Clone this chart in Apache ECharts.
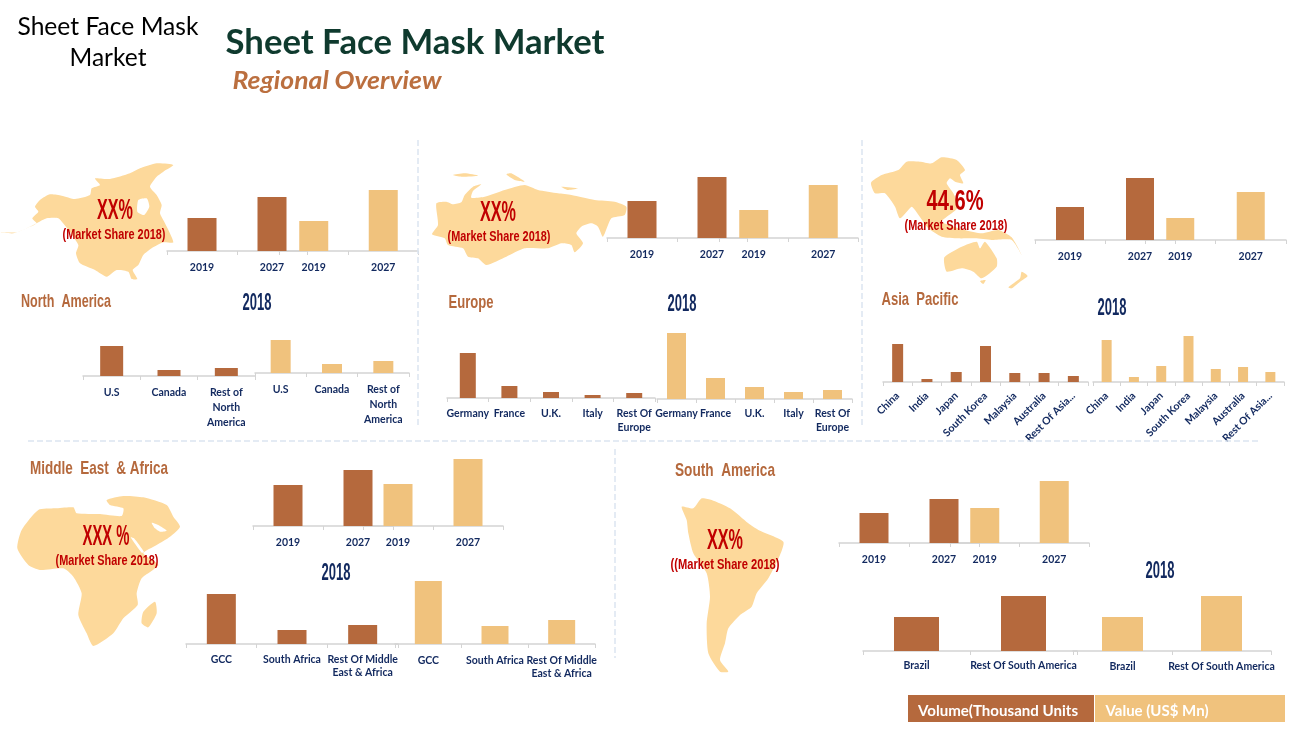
<!DOCTYPE html>
<html>
<head>
<meta charset="utf-8">
<title>Sheet Face Mask Market</title>
<script src="https://cdn.jsdelivr.net/npm/echarts@6/dist/echarts.min.js"></script>
<style>
    html, body { margin: 0; padding: 0; background: #fff; }
    #container { width: 1289px; height: 729px; }
</style>
</head>
<body>
<div id="container"></div>
<script>
//bar heights, the source has no value axis
var trendYears = ['2019', '2027'];

var naTrendVolume = [33, 54];
var naTrendValue = [30, 61];
var europeTrendVolume = [37, 61];
var europeTrendValue = [28, 53];
var apacTrendVolume = [33, 62];
var apacTrendValue = [22, 48];
var meaTrendVolume = [41, 56];
var meaTrendValue = [42, 67];
var saTrendVolume = [30, 44];
var saTrendValue = [35, 62];

var naCountries = ['U.S', 'Canada', 'Rest of\nNorth\nAmerica'];
var naVolume = [30, 6, 8];
var naValue = [33, 9, 12];

var europeCountries = ['Germany', 'France', 'U.K.', 'Italy', 'Rest Of\nEurope'];
var europeVolume = [45, 12, 6, 3, 5];
var europeValue = [66, 21, 12, 7, 9];

var apacCountries = ['China', 'India', 'Japan', 'South Korea', 'Malaysia', 'Australia', 'Rest Of Asia...'];
var apacVolume = [38, 3, 10, 36, 9, 9, 6];
var apacValue = [42, 5, 16, 46, 13, 15, 10];

var meaCountries = ['GCC', 'South Africa', 'Rest Of Middle\nEast & Africa'];
var meaVolume = [50, 14, 19];
var meaValue = [63, 18, 24];

var saCountries = ['Brazil', 'Rest Of South America'];
var saVolume = [34, 55];
var saValue = [34, 55];

var BROWN = '#b5693d';
var GOLD = '#f0c27d';
var NAVY = '#12295f';
var RED = '#c00000';
var LAND = '#fdd99b';
var PLOT_H = 72;

var dom = document.getElementById('container');
var myChart = echarts.init(dom, null, {renderer: 'canvas'});

//left, right, axis y, bar width, label center y, line height
var panels = [
    {cats: trendYears, vals: naTrendVolume, color: BROWN, l: 167, r: 307, y: 252, bw: 29, ly: 267},
    {cats: trendYears, vals: naTrendValue, color: GOLD, l: 279, r: 418, y: 252, bw: 29, ly: 267},
    {cats: trendYears, vals: europeTrendVolume, color: BROWN, l: 607, r: 747, y: 239, bw: 29, ly: 254},
    {cats: trendYears, vals: europeTrendValue, color: GOLD, l: 719, r: 858, y: 239, bw: 29, ly: 254},
    {cats: trendYears, vals: apacTrendVolume, color: BROWN, l: 1035, r: 1175, y: 241, bw: 28, ly: 256},
    {cats: trendYears, vals: apacTrendValue, color: GOLD, l: 1145, r: 1286, y: 241, bw: 28, ly: 256},
    {cats: trendYears, vals: meaTrendVolume, color: BROWN, l: 253, r: 393, y: 527, bw: 29, ly: 542},
    {cats: trendYears, vals: meaTrendValue, color: GOLD, l: 363, r: 503, y: 527, bw: 29, ly: 542},
    {cats: trendYears, vals: saTrendVolume, color: BROWN, l: 839, r: 979, y: 544, bw: 29, ly: 559},
    {cats: trendYears, vals: saTrendValue, color: GOLD, l: 950, r: 1089, y: 544, bw: 29, ly: 559},

    {cats: naCountries, vals: naVolume, color: BROWN, l: 83, r: 255, y: 377, bw: 23, ly: 392, lh: 15},
    {cats: naCountries, vals: naValue, color: GOLD, l: 255, r: 409, y: 374, bw: 20, ly: 389, lh: 15},
    {cats: europeCountries, vals: europeVolume, color: BROWN, l: 447, r: 655, y: 399, bw: 16, ly: 413, lh: 13.5},
    {cats: europeCountries, vals: europeValue, color: GOLD, l: 657, r: 852, y: 400, bw: 19, ly: 413, lh: 13.5},
    {cats: apacCountries, vals: apacVolume, color: BROWN, l: 883, r: 1088, y: 383, bw: 11, rotate: 45},
    {cats: apacCountries, vals: apacValue, color: GOLD, l: 1093, r: 1284, y: 383, bw: 10, rotate: 45},
    {cats: meaCountries, vals: meaVolume, color: BROWN, l: 186, r: 398, y: 645, bw: 29, ly: 659, lh: 13},
    {cats: meaCountries, vals: meaValue, color: GOLD, l: 395, r: 595, y: 645, bw: 27, ly: 660, lh: 13},
    {cats: saCountries, vals: saVolume, color: BROWN, l: 863, r: 1077, y: 652, bw: 45, ly: 665},
    {cats: saCountries, vals: saValue, color: GOLD, l: 1073, r: 1271, y: 652, bw: 41, ly: 666}
];

var grids = [], xAxes = [], yAxes = [], series = [];

panels.forEach(function (p, i) {
    var lh = p.lh || 13;
    grids.push({left: p.l, top: p.y - 1 - PLOT_H, width: p.r - p.l, height: PLOT_H});
    xAxes.push({
        type: 'category',
        gridIndex: i,
        data: p.cats,
        offset: 1,
        axisLine: {lineStyle: {color: '#d4d4d4', width: 1.5}},
        axisTick: {show: true, length: 4, lineStyle: {color: '#d4d4d4', width: 1}},
        axisLabel: {
            interval: 0,
            rotate: p.rotate || 0,
            color: NAVY,
            fontFamily: 'Lato',
            fontWeight: 'bold',
            fontSize: 10.5,
            lineHeight: lh,
            margin: p.rotate ? 11 : p.ly - p.y - lh / 2 + 1
        }
    });
    yAxes.push({type: 'value', gridIndex: i, min: 0, max: PLOT_H, show: false});
    series.push({
        type: 'bar',
        xAxisIndex: i,
        yAxisIndex: i,
        barWidth: p.bw,
        silent: true,
        itemStyle: {color: p.color},
        data: p.vals
    });
});

//text squeezed to the width it has in the picture (the display fonts are not installed)
var ctx = document.createElement('canvas').getContext('2d');
function fitText(text, cx, cy, width, font, fill) {
    ctx.font = font;
    return {
        type: 'text',
        x: cx,
        y: cy,
        scaleX: width / ctx.measureText(text).width,
        z: 20,
        style: {text: text, font: font, fill: fill, align: 'center', verticalAlign: 'middle'}
    };
}

function land(ox, oy, pts, fill) {
    return {
        type: 'polygon',
        z: 1,
        silent: true,
        shape: {
            smooth: 0.2,
            points: pts.map(function (q) { return [ox + q[0] / 3, oy + q[1] / 3]; })
        },
        style: {fill: fill || LAND}
    };
}

function dashed(x1, y1, x2, y2) {
    return {
        type: 'line',
        z: 1,
        shape: {x1: x1, y1: y1, x2: x2, y2: y2},
        style: {stroke: '#dbe5f1', lineWidth: 1.5, lineDash: [6, 3]}
    };
}

var graphics = [
    dashed(418, 140, 418, 427),
    dashed(862, 140, 862, 427),
    dashed(28, 441, 1258, 441),
    dashed(615, 449, 615, 658),

    //North America
    land(0, 155, [[0,232],[40,235],[75,222],[110,205],[97,190],[115,170],[105,155],[120,135],[150,118],[185,122],[225,132],[270,120],[275,100],[300,90],[285,70],[330,72],[390,55],[420,40],[470,25],[520,30],[490,50],[470,65],[450,95],[470,120],[485,150],[480,175],[495,205],[520,262],[490,262],[455,280],[430,300],[415,330],[398,345],[412,372],[395,372],[385,350],[350,345],[320,365],[285,345],[240,325],[228,295],[235,270],[205,225],[175,190],[140,190],[100,210],[50,232]]),
    land(0, 155, [[415,135],[440,130],[448,155],[432,180],[412,170]], '#fff'),

    //Russia and Europe
    land(428, 165, [[12,208],[30,180],[25,115],[55,110],[75,118],[100,112],[110,90],[135,65],[160,58],[135,78],[130,98],[170,95],[230,75],[290,60],[330,75],[390,85],[430,90],[500,105],[560,110],[595,125],[590,150],[550,160],[525,215],[510,185],[490,175],[460,185],[445,205],[465,235],[440,262],[430,240],[400,235],[360,250],[290,250],[235,275],[175,300],[150,280],[120,275],[105,250],[60,240],[50,220]]),
    land(428, 165, [[75,30],[110,25],[150,32],[100,35]]),
    land(428, 165, [[235,28],[250,25],[290,50],[260,45]]),
    land(428, 165, [[400,65],[450,70],[420,75]]),

    //Asia Pacific
    land(865, 150, [[18,98],[50,75],[100,60],[125,35],[165,35],[200,40],[230,22],[275,30],[300,60],[285,75],[295,100],[270,95],[255,85],[245,100],[265,130],[280,170],[260,190],[230,215],[300,240],[350,250],[400,240],[440,262],[470,315],[440,270],[380,270],[330,265],[280,265],[230,260],[190,235],[150,180],[140,170],[105,205],[90,170],[60,130],[30,130]]),
    land(865, 150, [[238,322],[290,290],[335,275],[345,295],[360,275],[395,325],[395,350],[350,385],[325,365],[290,355],[245,365]]),
    land(865, 150, [[345,393],[362,390],[355,402]]),
    land(865, 150, [[430,412],[465,385],[470,365],[488,378],[465,395],[440,415]]),

    //Middle East and Africa
    land(10, 490, [[22,175],[35,120],[85,60],[135,55],[190,52],[200,70],[270,72],[335,78],[340,55],[300,45],[290,30],[340,18],[400,22],[470,45],[490,80],[510,110],[480,140],[440,165],[400,190],[445,225],[395,265],[380,310],[383,345],[340,385],[310,430],[250,468],[230,430],[205,375],[215,310],[190,260],[160,235],[90,240],[55,225]]),
    land(10, 490, [[362,142],[395,188],[402,186],[372,145]], '#fff'),
    land(10, 490, [[425,98],[445,105],[470,122],[450,125],[435,115]], '#fff'),
    land(10, 490, [[395,400],[400,365],[435,335],[440,370],[415,412]]),

    //South America
    land(665, 490, [[50,50],[85,55],[110,25],[140,30],[195,55],[250,100],[280,120],[355,155],[345,195],[310,265],[275,310],[260,350],[225,375],[190,415],[180,460],[165,510],[190,545],[165,545],[130,490],[125,400],[135,320],[125,250],[85,190],[70,130],[65,90]]),

    //titles
    fitText('Sheet Face Mask', 108, 27, 181, '25px Lato', '#000'),
    fitText('Market', 108, 58, 77, '25px Lato', '#000'),
    fitText('Sheet Face Mask Market', 415, 43, 379, 'bold 34px Lato', '#0f3a2e'),
    fitText('Regional Overview', 337, 81, 209, 'italic bold 24px Lato', '#bb6f3f'),

    //region names
    fitText('North  America', 66, 302, 90, 'bold 19px "Liberation Sans"', BROWN),
    fitText('Europe', 471, 303, 45, 'bold 19px "Liberation Sans"', BROWN),
    fitText('Asia  Pacific', 920, 300, 77, 'bold 19px "Liberation Sans"', BROWN),
    fitText('Middle  East  & Africa', 99, 469, 138, 'bold 19px "Liberation Sans"', BROWN),
    fitText('South  America', 725, 471, 100, 'bold 19px "Liberation Sans"', BROWN),

    //2018 headings
    fitText('2018', 257, 304, 29, 'bold 23px "Liberation Sans"', NAVY),
    fitText('2018', 682, 305, 29, 'bold 23px "Liberation Sans"', NAVY),
    fitText('2018', 1112, 309, 29, 'bold 23px "Liberation Sans"', NAVY),
    fitText('2018', 336, 574, 29, 'bold 23px "Liberation Sans"', NAVY),
    fitText('2018', 1160, 572, 29, 'bold 23px "Liberation Sans"', NAVY),

    //share labels
    fitText('XX%', 115, 211, 36, 'bold 30px "Liberation Sans"', RED),
    fitText('(Market Share 2018)', 114, 235, 103, 'bold 14px "Liberation Sans"', RED),
    fitText('XX%', 498, 213, 36, 'bold 30px "Liberation Sans"', RED),
    fitText('(Market Share 2018)', 499, 237, 103, 'bold 14px "Liberation Sans"', RED),
    fitText('44.6%', 955, 202, 57, 'bold 30px "Liberation Sans"', RED),
    fitText('(Market Share 2018)', 956, 226, 103, 'bold 14px "Liberation Sans"', RED),
    fitText('XXX %', 106, 537, 47, 'bold 30px "Liberation Sans"', RED),
    fitText('(Market Share 2018)', 107, 561, 103, 'bold 14px "Liberation Sans"', RED),
    fitText('XX%', 725, 541, 36, 'bold 30px "Liberation Sans"', RED),
    fitText('((Market Share 2018)', 725, 565, 109, 'bold 14px "Liberation Sans"', RED),

    //legend boxes
    {type: 'rect', z: 5, shape: {x: 908, y: 695, width: 186, height: 27}, style: {fill: BROWN}},
    {type: 'rect', z: 5, shape: {x: 1095, y: 695, width: 190, height: 27}, style: {fill: GOLD}},
    fitText('Volume(Thousand Units', 998, 711, 160, 'bold 15px Lato', '#fff'),
    fitText('Value (US$ Mn)', 1157, 711, 103, 'bold 15px Lato', '#fff')
];

var option = {
    backgroundColor: '#fff',
    animation: false,
    grid: grids,
    xAxis: xAxes,
    yAxis: yAxes,
    series: series,
    graphic: {elements: graphics}
};

myChart.setOption(option, true);
</script>
</body>
</html>
